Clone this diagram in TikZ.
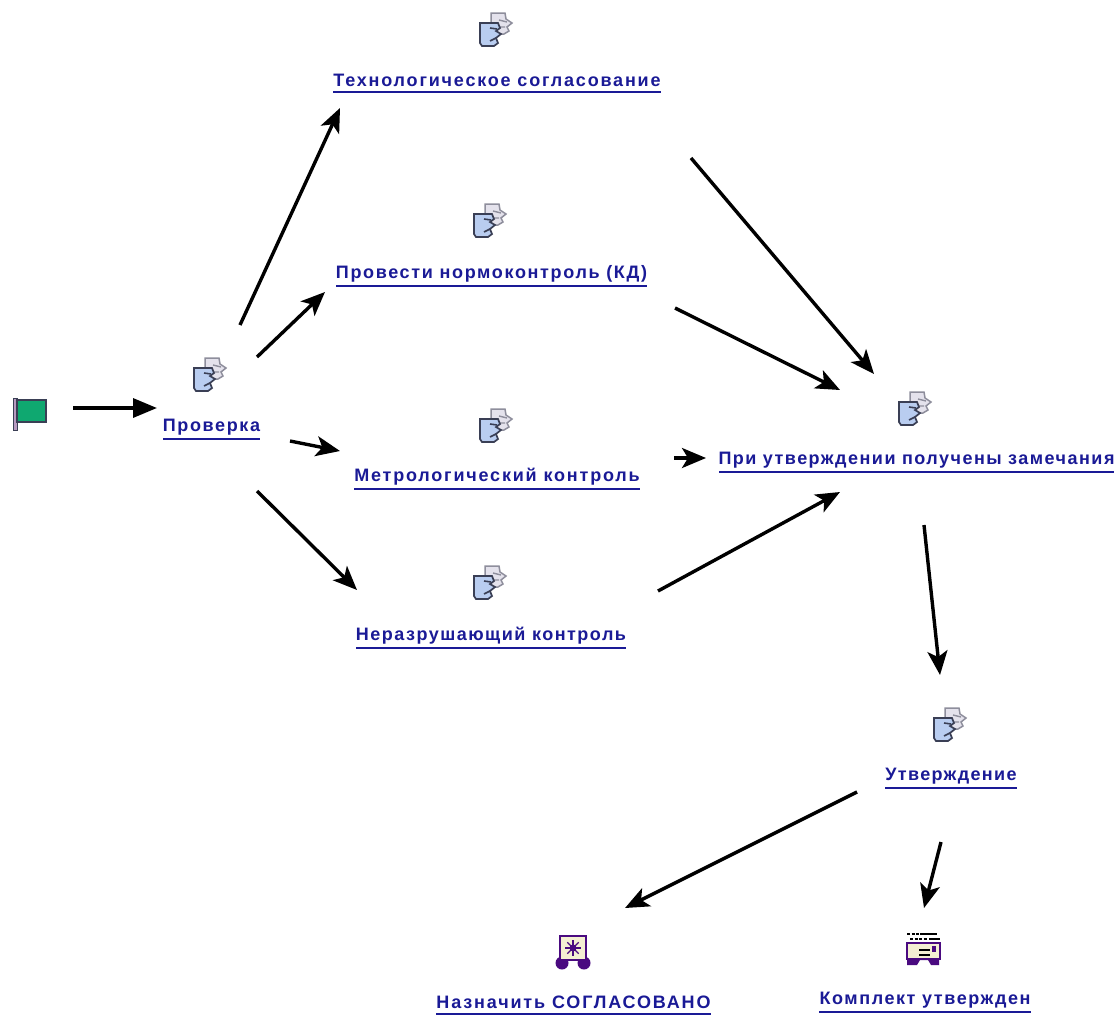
\documentclass[tikz,border=0pt]{standalone}
\usepackage{fontspec}
\setmainfont{Liberation Sans}
\usetikzlibrary{arrows.meta}
\definecolor{linkblue}{HTML}{1A1A96}
\definecolor{pageblue}{HTML}{B9CDF0}
\definecolor{pagegrey}{HTML}{E4E2EC}
\definecolor{edgegrey}{HTML}{8E8E9C}
\definecolor{edgedark}{HTML}{3A3F55}
\definecolor{flaggreen}{HTML}{0FA870}
\definecolor{flagpole}{HTML}{B79AC0}
\definecolor{sealpurple}{HTML}{4A0A80}
\definecolor{cream}{HTML}{F4EFD2}
\tikzset{
  x=1pt,y=-1pt,
  linkstyle/.style={text=linkblue,inner sep=0pt,font=\fontsize{18}{20}\selectfont\bfseries},
  flow/.style={line width=3.4pt,-{Stealth[length=24pt,width=20pt,inset=6pt]},black},
  startflow/.style={line width=3.4pt,-{Triangle[length=24pt,width=19pt]},black},
  rule/.style={draw=linkblue,line width=1.8pt},
  docicon/.pic={
    \draw[draw=edgegrey,fill=pagegrey,line width=1.5pt]
      (-4,-18) -- (10,-18) -- (11,-12) -- (17,-8) -- (12,-4) -- (14,0) -- (9,3) -- (-4,3) -- cycle;
    \draw[edgegrey,line width=1.4pt] (4,-11) -- (12,-9) (4,-4) -- (10,-4);
    \draw[draw=edgedark,fill=pageblue,line width=1.7pt]
      (-15,-8) -- (3,-8) -- (5,-3) -- (1,0) -- (6,3) -- (1,7) -- (3,12) -- (-1,15) -- (-13,15) -- (-15,12) -- cycle;
    \draw[edgedark,line width=1.6pt] (-5,-3) -- (2,-2) (-5,10) -- (1,7);
  },
  flagicon/.pic={
    \fill[flagpole] (-17,-15) rectangle (-13,17);
    \draw[edgedark,line width=0.9pt] (-17,-15) rectangle (-13,17);
    \draw[draw=edgedark,fill=flaggreen,line width=1.4pt] (-13,-13) rectangle (16,9);
  },
  sealicon/.pic={
    \fill[sealpurple] (-11,12) circle (6.5) (11,12) circle (6.5);
    \draw[draw=sealpurple,fill=cream,line width=2.4pt] (-13,-15) rectangle (13,9);
    \fill[sealpurple] (-13,8) rectangle (-7,14) (7,8) rectangle (13,14);
    \foreach \a in {0,45,...,315}{\draw[sealpurple,line width=1.2pt] (0,-3) -- ++(\a:8);}
    \fill[sealpurple] (0,-3) circle (3.5);
  },
  cardicon/.pic={
    \draw[black,line width=1.7pt,dash pattern=on 3pt off 1.5pt] (-16,-15) -- (-4,-15);
    \draw[black,line width=1.7pt] (-3,-15) -- (14,-15);
    \draw[black,line width=1.7pt,dash pattern=on 3pt off 1.5pt] (-13,-10) -- (5,-10);
    \draw[black,line width=1.7pt] (6,-10) -- (17,-10);
    \fill[sealpurple] (-16,9) -- (-16,16) -- (-6,16) -- (-3,11) -- (5,11) -- (8,16) -- (16,16) -- (16,9) -- cycle;
    \draw[draw=sealpurple,fill=cream,line width=2.2pt] (-16,-6) rectangle (17,10);
    \draw[black,line width=1.2pt] (-4,1) -- (7,1) (-4,6) -- (7,6);
    \fill[sealpurple] (9,-3) rectangle (13,3);
  }
}
\newcommand{\linklabel}[6]{% name, x-left, x-right, centre y, letter spacing, text
  \node[linkstyle] (#1) at ({(#2+#3)/2},#4) {\addfontfeatures{LetterSpace=#5}#6};
  \draw[rule] (#2,#4+12) -- (#3,#4+12);
}
\begin{document}
\begin{tikzpicture}
\useasboundingbox (0,0) rectangle (1116,1017);
\fill[white] (0,0) rectangle (1116,1017);

\pic at (30,413) {flagicon};
\pic at (495,31) {docicon};
\pic at (489,222) {docicon};
\pic at (209,376) {docicon};
\pic at (495,427) {docicon};
\pic at (489,584) {docicon};
\pic at (914,410) {docicon};
\pic at (949,726) {docicon};
\pic at (573,951) {sealicon};
\pic at (923,949) {cardicon};

\linklabel{tech}{333}{661}{80}{10}{Технологическое согласование}
\linklabel{norm}{336}{647}{274}{9.2}{Провести нормоконтроль (КД)}
\linklabel{prov}{163}{260}{427}{9}{Проверка}
\linklabel{metr}{354}{640}{477}{10}{Метрологический контроль}
\linklabel{nerz}{356}{626}{636}{8.3}{Неразрушающий контроль}
\linklabel{zam}{719}{1114}{460}{8.2}{При утверждении получены замечания}
\linklabel{utv}{885}{1017}{776}{7.5}{Утверждение}
\linklabel{sogl}{436}{711}{1002}{10.2}{Назначить СОГЛАСОВАНО}
\linklabel{kompl}{819}{1031}{1000}{8.8}{Комплект утвержден}

\coordinate (s1) at (73,408);   \coordinate (e1) at (157,408);
\coordinate (s2) at (240,325);  \coordinate (e2) at (340,108);
\coordinate (s3) at (257,357);  \coordinate (e3) at (325,292);
\coordinate (s4) at (290,441);  \coordinate (e4) at (340,451);
\coordinate (s5) at (257,491);  \coordinate (e5) at (357,590);
\coordinate (s6) at (691,158);  \coordinate (e6) at (874,374);
\coordinate (s7) at (675,308);  \coordinate (e7) at (840,390);
\coordinate (s8) at (674,458);  \coordinate (e8) at (706,458);
\coordinate (s9) at (658,591);  \coordinate (e9) at (840,492);
\coordinate (s10) at (924,525); \coordinate (e10) at (940,675);
\coordinate (s11) at (857,792); \coordinate (e11) at (625,908);
\coordinate (s12) at (941,842); \coordinate (e12) at (924,908);
\draw[startflow] (s1) -- (e1);
\foreach \i in {2,...,12}{\draw[flow] (s\i) -- (e\i);}
\end{tikzpicture}
\end{document}
